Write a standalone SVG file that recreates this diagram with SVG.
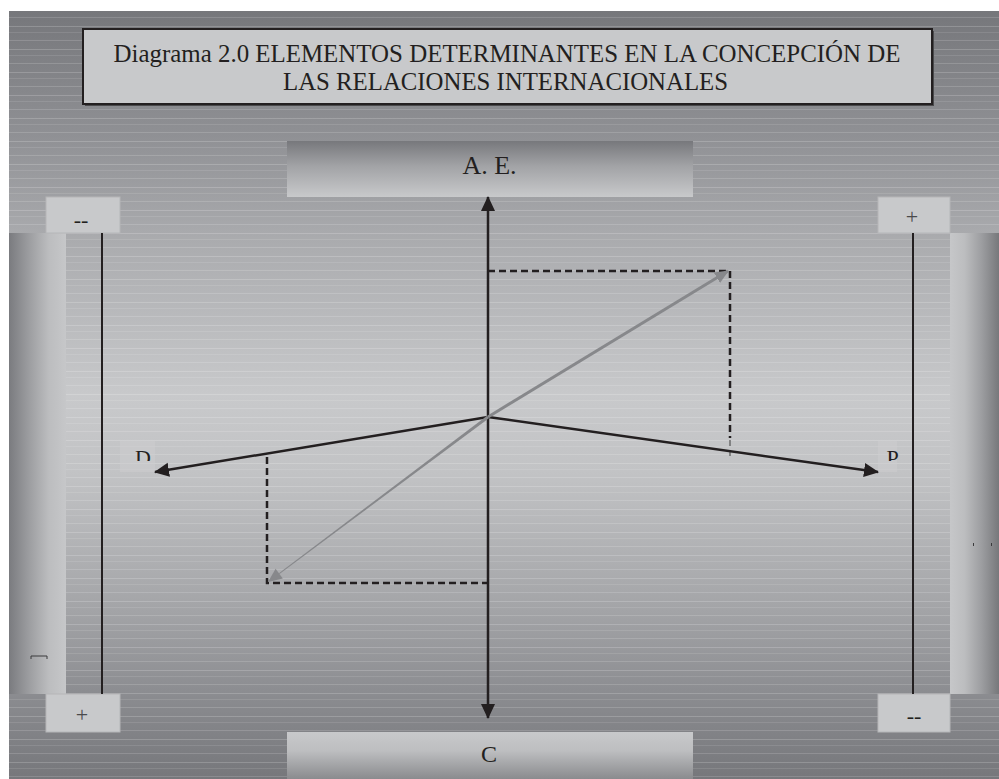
<svg xmlns="http://www.w3.org/2000/svg" width="999" height="779" viewBox="0 0 999 779">
<style>
.t{font-family:"Liberation Serif","Times New Roman",serif;fill:#231f20}
.ax{stroke:#231f20;stroke-width:2.5;fill:none}
.sc{stroke:#231f20;stroke-width:2;fill:none}
.dash{stroke:#231f20;stroke-width:2.5;stroke-dasharray:7 4;fill:none}
.small{fill:#c8c9cb;stroke:#b5b6b8;stroke-width:1}
</style>
<defs>
<linearGradient id="bg" x1="0" y1="11" x2="0" y2="779" gradientUnits="userSpaceOnUse">
<stop offset="0" stop-color="#76777b"/>
<stop offset="0.16" stop-color="#8f9094"/>
<stop offset="0.29" stop-color="#a9aaad"/>
<stop offset="0.5" stop-color="#c8c9cb"/>
<stop offset="0.6" stop-color="#c2c3c5"/>
<stop offset="0.78" stop-color="#a3a4a7"/>
<stop offset="0.89" stop-color="#8b8c90"/>
<stop offset="1" stop-color="#76777b"/>
</linearGradient>
<pattern id="stripes" patternUnits="userSpaceOnUse" width="20" height="23">
<rect x="0" y="3" width="20" height="1" fill="#ffffff" opacity="0.18"/>
<rect x="0" y="9" width="20" height="1" fill="#ffffff" opacity="0.10"/>
<rect x="0" y="17" width="20" height="1" fill="#ffffff" opacity="0.15"/>
</pattern>
<linearGradient id="aeG" x1="0" y1="0" x2="0" y2="1">
<stop offset="0" stop-color="#77787c"/>
<stop offset="0.45" stop-color="#a2a3a6"/>
<stop offset="1" stop-color="#c8c9cb"/>
</linearGradient>
<linearGradient id="cG" x1="0" y1="0" x2="0" y2="1">
<stop offset="0" stop-color="#c8c9cb"/>
<stop offset="0.4" stop-color="#bdbec0"/>
<stop offset="1" stop-color="#8a8b8e"/>
</linearGradient>
<linearGradient id="lbar" x1="0" y1="0" x2="1" y2="0">
<stop offset="0" stop-color="#7a7b7f"/>
<stop offset="0.35" stop-color="#9c9da0"/>
<stop offset="0.7" stop-color="#bcbdbf"/>
<stop offset="1" stop-color="#c6c7c9"/>
</linearGradient>
<linearGradient id="rbar" x1="0" y1="0" x2="1" y2="0">
<stop offset="0" stop-color="#c6c7c9"/>
<stop offset="0.3" stop-color="#bcbdbf"/>
<stop offset="0.65" stop-color="#9c9da0"/>
<stop offset="1" stop-color="#77787b"/>
</linearGradient>
<marker id="ah" markerUnits="userSpaceOnUse" markerWidth="16" markerHeight="16" refX="14" refY="7" orient="auto">
<path d="M0,0 L15,7 L0,14 z" fill="#231f20"/>
</marker>
<marker id="ahg" markerUnits="userSpaceOnUse" markerWidth="16" markerHeight="14" refX="13" refY="6" orient="auto">
<path d="M0,0 L14,6 L0,12 z" fill="#87888b"/>
</marker>
<clipPath id="clipD"><rect x="120" y="441" width="40" height="20"/></clipPath>
<clipPath id="clipP"><rect x="878" y="441" width="30" height="20"/></clipPath>
</defs>

<!-- background -->
<rect x="9" y="11" width="990" height="768" fill="url(#bg)"/>
<rect x="9" y="11" width="990" height="768" fill="url(#stripes)"/>

<!-- side bars -->
<rect x="9" y="233" width="57" height="461" fill="url(#lbar)"/>
<rect x="950" y="233" width="49" height="461" fill="url(#rbar)"/>
<path d="M31,659 V656 H47 V659" stroke="#3a3a3c" stroke-width="1" fill="none"/>
<path d="M973.5,543 v3 M991.5,543 v3" stroke="#3a3a3c" stroke-width="1"/>

<!-- title -->
<g id="title">
<rect x="85" y="31" width="849" height="75" fill="#4a4a4c"/>
<rect x="83" y="29" width="849" height="75" fill="#c8c9cb" stroke="#231f20" stroke-width="2"/>
<text class="t" x="507" y="62" font-size="24.5" text-anchor="middle" textLength="787" lengthAdjust="spacingAndGlyphs">Diagrama 2.0 ELEMENTOS DETERMINANTES EN LA CONCEPCIÓN DE</text>
<text class="t" x="505.5" y="90" font-size="24.5" text-anchor="middle" textLength="445" lengthAdjust="spacingAndGlyphs">LAS RELACIONES INTERNACIONALES</text>
</g>

<!-- nodes -->
<g id="node-ae">
<rect x="287" y="141" width="406" height="56" fill="url(#aeG)"/>
<text class="t" x="489.5" y="174" font-size="26" text-anchor="middle">A. E.</text>
</g>
<g id="node-c">
<rect x="287" y="732" width="406" height="47" fill="url(#cG)"/>
<text class="t" x="489" y="762" font-size="24" text-anchor="middle">C</text>
</g>
<g id="node-minus-tl">
<rect class="small" x="46" y="197" width="74" height="36"/>
<text class="t" x="81" y="227" font-size="22" text-anchor="middle">--</text>
</g>
<g id="node-plus-tr">
<rect class="small" x="878" y="197" width="72" height="36"/>
<text class="t" x="912" y="224" font-size="22" text-anchor="middle" fill="#4a4a4c" style="fill:#4a4a4c">+</text>
</g>
<g id="node-plus-bl">
<rect class="small" x="46" y="694" width="74" height="38"/>
<text class="t" x="82" y="722" font-size="22" text-anchor="middle" style="fill:#4a4a4c">+</text>
</g>
<g id="node-minus-br">
<rect class="small" x="878" y="694" width="72" height="38"/>
<text class="t" x="914" y="723" font-size="22" text-anchor="middle">--</text>
</g>
<g id="label-d">
<rect x="120" y="441" width="35" height="31" fill="#cdcecf" opacity="0.5"/>
<text class="t" x="143" y="465" font-size="22" text-anchor="middle" clip-path="url(#clipD)">D</text>
</g>
<g id="label-p">
<rect x="878" y="441" width="19" height="31" fill="#cdcecf" opacity="0.5"/>
<text class="t" x="892.5" y="465" font-size="22" text-anchor="middle" clip-path="url(#clipP)">P</text>
</g>

<!-- connectors -->
<g id="connectors">
<line class="sc" x1="102" y1="233" x2="102" y2="694"/>
<line class="sc" x1="913" y1="233" x2="913" y2="694"/>
<path class="dash" d="M488,271 H730 V438"/>
<path d="M730,440 V457" stroke="#555" stroke-width="1.2" stroke-dasharray="6 4" fill="none"/>
<path class="dash" d="M267,457 V583 H488"/>
<line class="ax" x1="488" y1="417" x2="488" y2="197" marker-end="url(#ah)"/>
<line class="ax" x1="488" y1="417" x2="488" y2="718" marker-end="url(#ah)"/>
<line class="ax" x1="488" y1="417" x2="155" y2="472" marker-end="url(#ah)"/>
<line class="ax" x1="488" y1="417" x2="878" y2="472" marker-end="url(#ah)"/>
<line x1="488" y1="417" x2="728" y2="271" stroke="#87888b" stroke-width="3" marker-end="url(#ahg)"/>
<path d="M487.1,415.8 L488.9,418.2 L279.5,574 L278.9,573.2 Z" fill="#87888b"/>
<path d="M268,582 L282.8,578.4 L275.6,568.8 Z" fill="#87888b"/>
</g>
</svg>
